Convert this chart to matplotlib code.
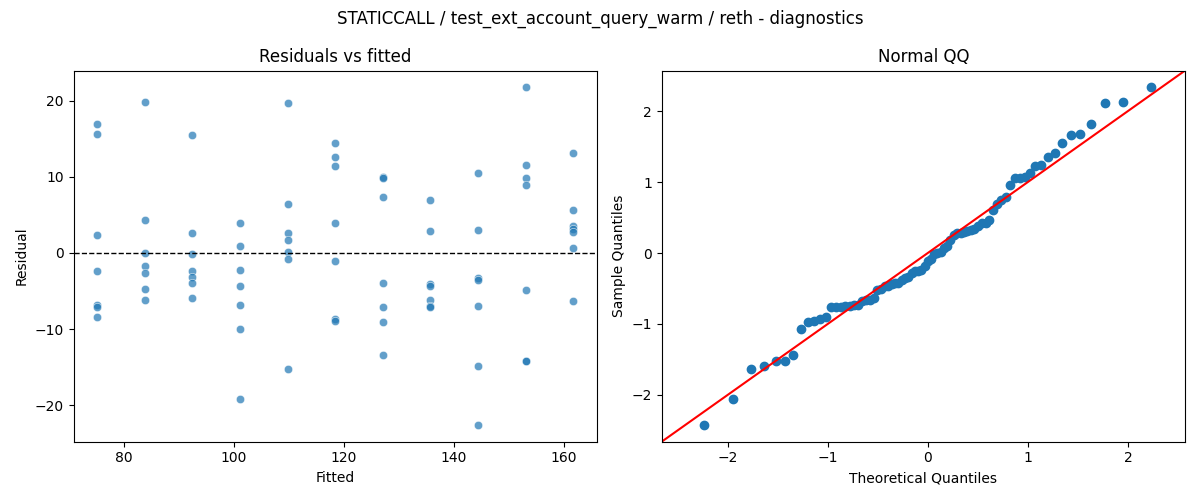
import numpy as np
import matplotlib
matplotlib.use("Agg")
import matplotlib.pyplot as plt
import seaborn as sns
from statistics import NormalDist

# fitted value of each group and the residuals
fitted_levels = [75.1, 83.8, 92.4, 101.1, 109.8, 118.4, 127.1, 135.7, 144.4, 153.1, 161.7]
residuals_by_level = [
    [16.9, 15.6, 2.3, -2.4, -6.8, -7.1, -8.4],
    [19.8, 4.3, 0.0, -1.75, -2.7, -4.7, -6.2],
    [15.45, 2.6, -0.1, -2.4, -3.2, -4.0, -5.95],
    [3.9, 0.9, -2.3, -4.4, -6.9, -10.0, -19.2],
    [19.65, 6.4, 2.6, 1.75, 0.13, -0.8, -15.3],
    [14.4, 12.6, 11.4, 3.9, -1.1, -8.7, -8.9],
    [10.0, 9.8, 7.4, -4.0, -7.1, -9.1, -13.4],
    [6.9, 2.85, -4.1, -4.3, -6.2, -7.0, -7.1],
    [10.45, 3.0, -3.3, -3.6, -7.0, -14.9, -22.6],
    [21.75, 11.5, 9.85, 8.9, -4.9, -14.2, -14.25],
    [13.1, 5.7, 3.6, 3.15, 2.8, 0.6, -6.35],
]

fitted = np.concatenate([[f] * len(r) for f, r in zip(fitted_levels, residuals_by_level)])
resid = np.concatenate(residuals_by_level)

fig, (ax1, ax2) = plt.subplots(1, 2, figsize=(12, 5), dpi=100)

# residuals vs fitted
sns.scatterplot(x=fitted, y=resid, alpha=0.7, ax=ax1)
ax1.axhline(0, color="black", linestyle="--", linewidth=1)
ax1.set_title("Residuals vs fitted")
ax1.set_xlabel("Fitted")
ax1.set_ylabel("Residual")

# normal QQ of the standardised residuals (plotting positions i/(n+1))
z = np.sort((resid - resid.mean()) / resid.std(ddof=1))
n = len(z)
theo = np.array([NormalDist().inv_cdf(i / (n + 1)) for i in range(1, n + 1)])
ax2.plot(theo, z, marker="o", linestyle="none")
xl, yl = ax2.get_xlim(), ax2.get_ylim()
lo, hi = min(xl[0], yl[0]), max(xl[1], yl[1])
ax2.plot([lo, hi], [lo, hi], "r")
ax2.set_xlim(lo, hi)
ax2.set_ylim(lo, hi)
ax2.set_title("Normal QQ")
ax2.set_xlabel("Theoretical Quantiles")
ax2.set_ylabel("Sample Quantiles")

fig.suptitle("STATICCALL / test_ext_account_query_warm / reth - diagnostics")
fig.tight_layout()
fig.savefig("out.png")
